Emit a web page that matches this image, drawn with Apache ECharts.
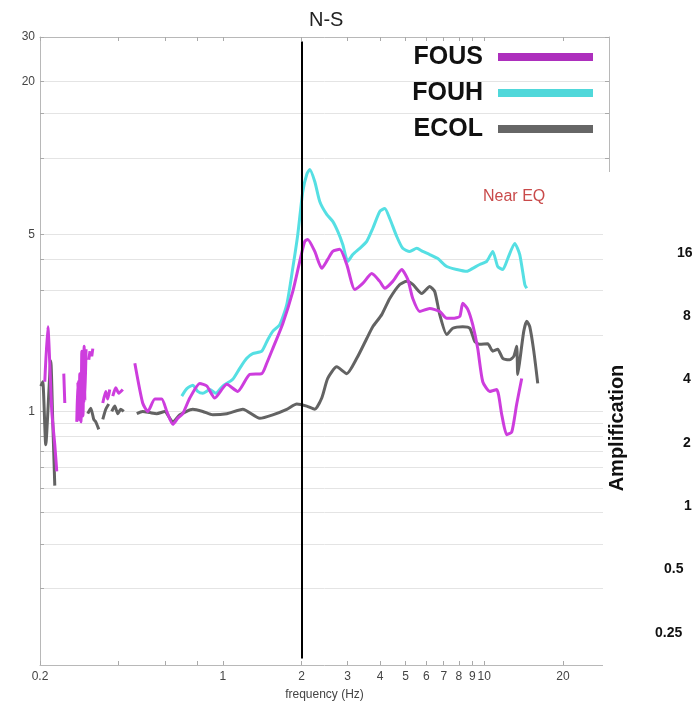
<!DOCTYPE html>
<html><head><meta charset="utf-8">
<script src="https://cdn.jsdelivr.net/npm/echarts@6/dist/echarts.min.js"></script>
<style>html,body{margin:0;padding:0;background:#fff}#c{width:693px;height:707px}</style>
</head><body><div id="c"></div>
<script>
// ---- data (frequency in Hz, amplification); null marks a gap in the trace ----
const seriesNames = ['FOUS', 'FOUH', 'ECOL'];

const fousFreq = [0.2086,0.2142,0.2219,0.2278,0.2318, null,
  0.2466,0.2488, null,
  0.2765,0.279,0.282,0.284,0.287,0.289,0.292,0.295,0.297,0.300, null,
  0.3073,0.3106, null, 0.3155,0.3184, null,
  0.3476,0.3569,0.3632,0.3696, null, 0.3796,0.3898,0.4003,0.4146, null,
  0.461,0.494,0.517,0.550,0.584,0.611,0.644,0.673,0.703,0.748,
  0.817,0.869,0.932,1.036,1.141,1.268,1.410,1.473,1.553,1.696,
  1.852,1.970,2.059,2.113,2.248,2.391,2.520,2.634,2.802,2.980,
  3.198,3.431,3.713,3.985,4.164,4.468,4.837,5.100,5.330,5.667,
  6.188,6.758,7.188,7.578,8.059,8.276,8.649,9.036,9.443,9.869,
  10.50,11.16,11.67,12.19,12.74,13.31,13.91];
const fousAmp = [1.31,2.16,1.00,0.74,0.58, null,
  1.41,1.08, null,
  0.91,1.31,0.93,1.41,0.91,1.73,0.96,1.81,1.10,1.76, null,
  1.60,1.73, null, 1.65,1.77, null,
  1.08,1.20,1.12,1.22, null, 1.15,1.24,1.18,1.22, null,
  1.55,1.08,1.00,1.12,1.12,1.00,0.89,0.94,0.98,1.13,
  1.29,1.26,1.13,1.28,1.20,1.40,1.41,1.55,1.77,2.22,
  2.97,3.91,4.69,4.77,4.28,3.67,3.98,4.28,4.36,3.80,
  3.03,3.20,3.50,3.26,3.06,3.26,3.63,3.32,2.79,2.48,
  2.55,2.48,2.33,2.33,2.37,2.67,2.53,2.20,1.77,1.31,
  1.20,1.22,0.97,0.81,0.83,1.07,1.35];

const fouhFreq = [0.697,0.729,0.768,0.802,0.839,0.892,0.940,
  1.000,1.092,1.161,1.235,1.302,1.410,1.486,1.553,1.652,1.757,
  1.852,1.936,2.023,2.095,2.151,2.248,2.349,2.498,2.634,2.753,
  2.877,3.006,3.142,3.342,3.553,3.746,3.985,4.164,4.351,4.628,
  4.879,5.189,5.519,5.819,6.188,6.641,7.188,7.849,8.575,9.036,
  9.612,10.22,10.78,11.26,11.77,12.30,13.08,13.67,14.29,14.54];
const fouhAmp = [1.15,1.23,1.27,1.20,1.18,1.22,1.18,
  1.26,1.34,1.48,1.62,1.69,1.73,1.92,2.07,2.20,2.64,
  3.67,4.99,7.38,8.61,9.01,8.08,6.74,5.99,5.62,5.13,
  4.56,3.91,4.16,4.40,4.69,5.27,6.15,6.32,5.77,4.90,
  4.40,4.28,4.40,4.28,4.16,4.01,3.73,3.63,3.57,3.67,
  3.80,3.91,4.28,3.73,3.63,4.01,4.60,4.16,3.17,3.06];

const ecolFreq = [0.2014,0.2049,0.2104,0.2199,0.2238,0.2278, null,
  0.3046,0.3128,0.3212,0.3268,0.3356, null,
  0.3476,0.3569,0.3664, null,
  0.3762,0.3864,0.3968,0.4074,0.4182, null,
  0.469,0.494,0.526,0.559,0.600,0.644,0.685,0.768,0.839,0.916,
  1.036,1.193,1.385,1.553,1.757,1.919,2.095,2.248,2.391,2.520,
  2.729,2.980,3.254,3.553,3.746,4.055,4.351,4.753,5.053,5.330,
  5.768,6.188,6.467,6.758,7.188,7.578,8.276,8.803,9.198,9.612,
  10.31,10.78,11.26,11.77,12.52,12.97,13.31,13.43,13.67,14.16,
  14.54,14.93,15.47,16.02];
const ecolAmp = [1.26,1.31,0.74,1.58,0.91,0.51, null,
  0.98,1.03,0.93,0.91,0.85, null,
  0.93,1.02,1.07, null,
  1.00,1.05,0.98,1.02,1.00, null,
  0.98,1.00,0.99,0.98,1.00,0.91,0.97,1.02,1.00,0.97,
  0.98,1.02,0.94,0.97,1.02,1.07,1.05,1.02,1.13,1.35,
  1.50,1.41,1.62,1.94,2.16,2.41,2.79,3.17,3.26,3.17,
  2.92,3.11,2.97,2.41,2.01,2.13,2.16,2.13,1.89,1.84,
  1.85,1.73,1.76,1.62,1.60,1.65,1.81,1.40,1.58,2.07,
  2.27,2.16,1.73,1.29];

// axis ticks / labels
const xTickValues = [0.2,0.4,0.6,0.8,1,2,3,4,5,6,7,8,9,10,20];
const xLabelValues = [0.2,1,2,3,4,5,6,7,8,9,10,20];
const yTickValues = [0.2,0.3,0.4,0.5,0.6,0.7,0.8,0.9,1,2,3,4,5,10,15,20,30];
const yLabelValues = [1,5,20,30];
const xRange = [0.2, 30];
const yRange = [0.1, 30];

// reference line at 2 Hz
const markerFreq = 2;
const markerSpan = [28.8, 0.106];

// partially visible neighbouring figure
const rightFigTitle = 'Amplification';
const rightFigLabels = ['16','8','4','2','1','0.5','0.25'];

// ---- chart ----
const FONT = "'Liberation Sans', Arial, Helvetica, sans-serif";
const colors = {FOUS:'#cd3ddd', FOUH:'#55dfe3', ECOL:'#636363'};
const legendColors = {FOUS:'#ad2fbd', FOUH:'#50d8da', ECOL:'#666666'};

function pairs(fs, vs) {
  return fs.map((f, i) => (f == null || vs[i] == null) ? ['-', '-'] : [f, vs[i]]);
}
const fmt = v => String(parseFloat(Number(v).toPrecision(6)));

const chart = echarts.init(document.getElementById('c'), null, {renderer: 'canvas'});

const gridLineStyle = {color: '#e4e4e4', width: 1};
const axisGray = '#b8b8b8';

function xAxisCfg(pos, showLabels) {
  return {
    type: 'log', logBase: 10, min: xRange[0], max: xRange[1], position: pos,
    name: showLabels ? 'frequency (Hz)' : '', nameLocation: 'middle', nameGap: 24,
    nameTextStyle: {fontSize: 12, color: '#444', fontFamily: FONT},
    axisLine: {show: true, lineStyle: {color: axisGray, width: 1}},
    axisTick: {show: true, inside: true, length: 4, customValues: xTickValues, lineStyle: {color: '#aaa'}},
    axisLabel: {show: showLabels, customValues: xLabelValues, formatter: fmt, margin: 6,
      fontSize: 12, color: '#444', fontFamily: FONT, hideOverlap: false},
    splitLine: {show: false}, minorTick: {show: false}, minorSplitLine: {show: false}
  };
}
function yAxisCfg(pos, showLabels) {
  return {
    type: 'log', logBase: 10, min: yRange[0], max: yRange[1], position: pos,
    axisLine: {show: true, lineStyle: {color: axisGray, width: 1}},
    axisTick: {show: true, inside: true, length: 4, customValues: yTickValues, lineStyle: {color: '#aaa'}},
    axisLabel: {show: showLabels, customValues: yLabelValues, formatter: fmt, margin: 5,
      fontSize: 12, color: '#444', fontFamily: FONT, hideOverlap: false},
    splitLine: {show: showLabels, lineStyle: gridLineStyle},
    minorTick: {show: false}, minorSplitLine: {show: false}
  };
}

function lineSeries(name, fs, vs, z) {
  return {
    name: name, type: 'line', xAxisIndex: 0, yAxisIndex: 0,
    data: pairs(fs, vs), showSymbol: false, symbol: 'none', connectNulls: false,
    smooth: 0.2, z: z, emphasis: {disabled: true},
    lineStyle: {color: colors[name], width: 3},
    itemStyle: {color: colors[name]}
  };
}

const ecol = lineSeries('ECOL', ecolFreq, ecolAmp, 2);
ecol.markLine = {
  silent: true, symbol: ['none', 'none'], label: {show: false}, animation: false,
  lineStyle: {color: '#000', width: 2, type: 'solid'},
  data: [[{coord: [markerFreq, markerSpan[0]]}, {coord: [markerFreq, markerSpan[1]]}]]
};

const option = {
  animation: false,
  backgroundColor: '#ffffff',
  title: {text: 'N-S', left: 304, top: 5,
    textStyle: {fontSize: 20, fontWeight: 'normal', color: '#222', fontFamily: FONT}},
  grid: {left: 40, right: 84, top: 37, bottom: 42, containLabel: false},
  legend: {
    data: seriesNames.map(n => ({name: n, itemStyle: {color: legendColors[n]}})),
    orient: 'vertical', right: 100, top: 44, padding: 0, align: 'right', icon: 'rect',
    itemWidth: 95, itemHeight: 8, itemGap: 10, selectedMode: false,
    textStyle: {fontSize: 25, fontWeight: 'bold', color: '#111', fontFamily: FONT,
      lineHeight: 26, padding: [0, 10, 0, 0]}
  },
  xAxis: [xAxisCfg('bottom', true), xAxisCfg('top', false)],
  yAxis: [yAxisCfg('left', true), yAxisCfg('right', false)],
  series: [ecol, lineSeries('FOUH', fouhFreq, fouhAmp, 3), lineSeries('FOUS', fousFreq, fousAmp, 4)],
  graphic: []
};
chart.setOption(option);

// overlay: neighbouring figure (covers the lower right corner), "Near EQ" note
const rightLabelX = [677, 683, 683, 683, 684, 664, 655];
const g = [
  {type: 'rect', z: 100, shape: {x: 603, y: 172, width: 90, height: 535}, style: {fill: '#ffffff'}},
  {type: 'text', z: 101, x: 483, y: 197,
    style: {text: 'Near EQ', fill: '#c94a4a', font: '16px ' + FONT, textAlign: 'left', textVerticalAlign: 'middle'}},
  {type: 'text', z: 101, x: 617, y: 428, rotation: Math.PI / 2,
    style: {text: rightFigTitle, fill: '#111', font: 'bold 20px ' + FONT, textAlign: 'center', textVerticalAlign: 'middle'}}
];
rightFigLabels.forEach((t, i) => {
  g.push({type: 'text', z: 101, x: rightLabelX[i], y: 253 + i * 63.3,
    style: {text: t, fill: '#111', font: 'bold 14px ' + FONT, textAlign: 'left', textVerticalAlign: 'middle'}});
});
chart.setOption({graphic: g});
</script>
</body></html>
